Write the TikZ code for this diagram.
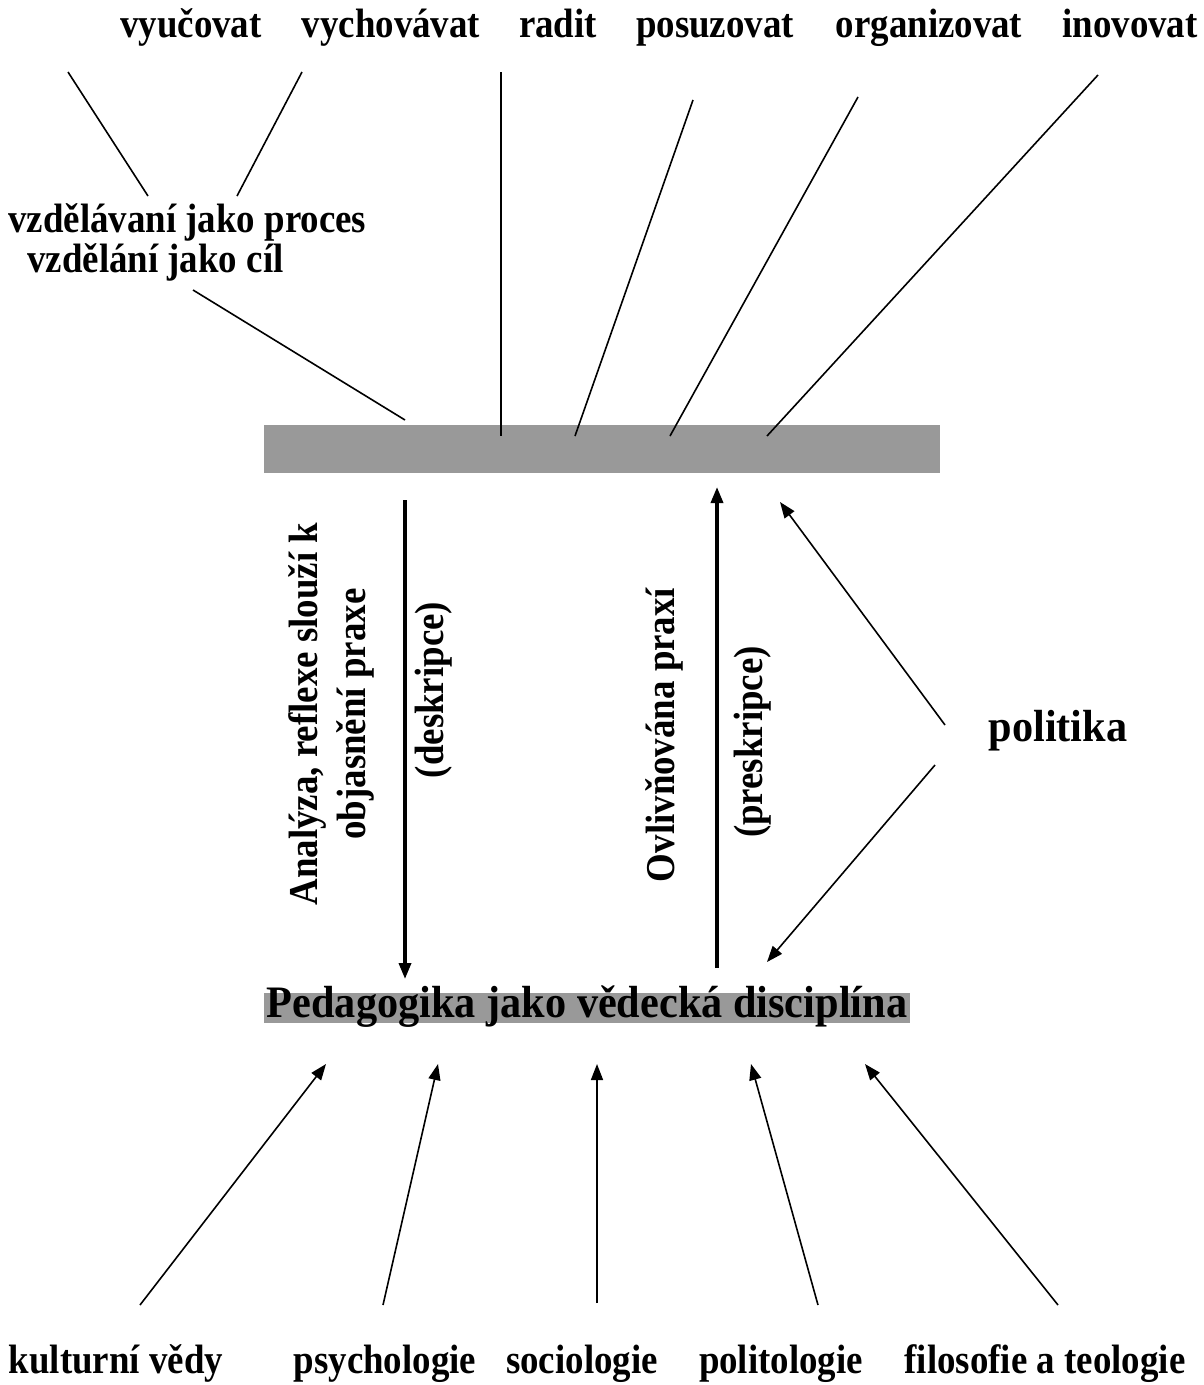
\documentclass[tikz,border=0pt]{standalone}
\usepackage{fontspec}
\setmainfont{Liberation Serif}
\usetikzlibrary{arrows.meta}
\definecolor{bargray}{HTML}{999999}
\newcommand\nsq[1]{\scalebox{0.9}[1]{#1}}
\newcommand\bsq[1]{\scalebox{0.94}[1]{#1}}
\begin{document}
\begin{tikzpicture}[x=0.75pt,y=-0.75pt,
  lbl/.style={font=\fontsize{30.75pt}{36pt}\selectfont\bfseries, inner sep=0pt},
  big/.style={font=\fontsize{33.75pt}{38pt}\selectfont\bfseries, inner sep=0pt},
  thin/.style={line width=1.2pt},
  arr/.style={line width=1.2pt, -{Triangle[length=12pt,width=9pt]}},
  thick/.style={line width=2.6pt, -{Triangle[length=12pt,width=9pt]}}]
\useasboundingbox (0,0) rectangle (1203,1385);
% top labels
\node[lbl, anchor=base] (vyu) at (191,37) {\nsq{vyučovat}};
\node[lbl, anchor=base] (vych) at (391,37) {\nsq{vychovávat}};
\node[lbl, anchor=base] (rad) at (558,37) {\nsq{radit}};
\node[lbl, anchor=base] (pos) at (715,37) {\nsq{posuzovat}};
\node[lbl, anchor=base] (org) at (929,37) {\nsq{organizovat}};
\node[lbl, anchor=base] (ino) at (1130,37) {\nsq{inovovat}};
% education labels
\node[lbl, anchor=base west] (proc) at (8,232) {\nsq{vzdělávaní jako proces}};
\node[lbl, anchor=base west] (cil) at (27,272) {\nsq{vzdělání jako cíl}};
% top bar
\node[fill=bargray, minimum width=676*0.75pt, minimum height=48*0.75pt, inner sep=0pt] (praxe) at (602,449) {};
% bottom bar
\node[fill=bargray, minimum width=646*0.75pt, minimum height=30*0.75pt, inner sep=0pt] (pedbar) at (587,1008) {};
\node[big, anchor=base] (ped) at (587,1017) {\bsq{Pedagogika jako vědecká disciplína}};
% politika
\node[big, anchor=base] (pol) at (1058,741) {\bsq{politika}};
% bottom labels
\node[lbl, anchor=base] (kul) at (116,1373) {\nsq{kulturní vědy}};
\node[lbl, anchor=base] (psy) at (385,1373) {\nsq{psychologie}};
\node[lbl, anchor=base] (soc) at (582,1373) {\nsq{sociologie}};
\node[lbl, anchor=base] (plt) at (781,1373) {\nsq{politologie}};
\node[lbl, anchor=base] (fil) at (1045,1373) {\nsq{filosofie a teologie}};
% rotated texts
\node[lbl, rotate=90, align=center] (ana) at (331,714) {\nsq{Analýza, reflexe slouží k}\\\nsq{objasnění praxe}};
\node[lbl, rotate=90] (des) at (434,690) {\nsq{(deskripce)}};
\node[lbl, rotate=90] (ovl) at (664,735) {\nsq{Ovlivňována praxí}};
\node[lbl, rotate=90] (pre) at (753,742) {\nsq{(preskripce)}};
% coordinates for line ends
\coordinate (a1) at (68,72);
\coordinate (a2) at (148,196);
\coordinate (b1) at (302,72);
\coordinate (b2) at (237,196);
\coordinate (c1) at (193,290);
\coordinate (c2) at (405,420);
\coordinate (r1) at (501,72);
\coordinate (r2) at (501,436);
\coordinate (p1) at (693,100);
\coordinate (p2) at (575,436);
\coordinate (o1) at (858,97);
\coordinate (o2) at (670,436);
\coordinate (i1) at (1098,75);
\coordinate (i2) at (767,436);
\draw[thin] (a1) -- (a2);
\draw[thin] (b1) -- (b2);
\draw[thin] (c1) -- (c2);
\draw[thin] (r1) -- (r2);
\draw[thin] (p1) -- (p2);
\draw[thin] (o1) -- (o2);
\draw[thin] (i1) -- (i2);
% vertical arrows
\coordinate (d1) at (405,500);
\coordinate (d2) at (405,979);
\coordinate (u1) at (717,968);
\coordinate (u2) at (717,487);
\draw[thick] (d1) -- (d2);
\draw[thick] (u1) -- (u2);
% politika arrows
\coordinate (pa1) at (945,725);
\coordinate (pa2) at (780,502);
\coordinate (pb1) at (935,765);
\coordinate (pb2) at (767,962);
\draw[arr] (pa1) -- (pa2);
\draw[arr] (pb1) -- (pb2);
% bottom arrows
\coordinate (k1) at (140,1305); \coordinate (k2) at (326,1064);
\coordinate (s1) at (383,1305); \coordinate (s2) at (438,1064);
\coordinate (so1) at (597,1303); \coordinate (so2) at (597,1064);
\coordinate (l1) at (818,1305); \coordinate (l2) at (751,1064);
\coordinate (f1) at (1058,1305); \coordinate (f2) at (865,1064);
\draw[arr] (k1) -- (k2);
\draw[arr] (s1) -- (s2);
\draw[arr] (so1) -- (so2);
\draw[arr] (l1) -- (l2);
\draw[arr] (f1) -- (f2);
\end{tikzpicture}
\end{document}
